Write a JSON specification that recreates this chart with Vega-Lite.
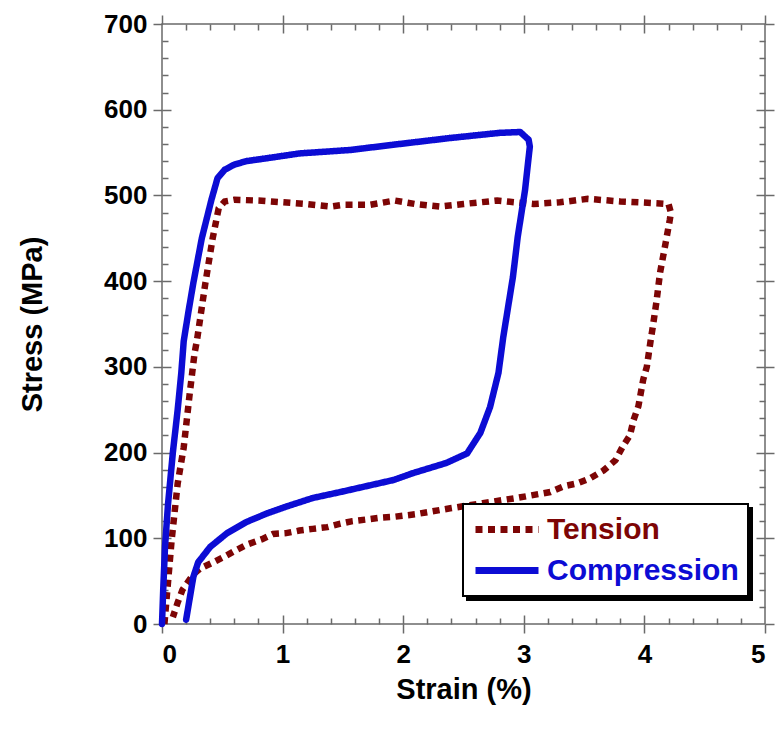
{
  "$schema": "https://vega.github.io/schema/vega-lite/v6.json",
  "width": 603,
  "height": 600,
  "autosize": "none",
  "padding": {"left": 162, "top": 24, "right": 12, "bottom": 107},
  "background": "white",
  "config": {
    "view": {"stroke": "#6a6a6a", "strokeWidth": 1.5},
    "font": "Liberation Sans",
    "axis": {"grid": false, "domain": false, "tickColor": "#6a6a6a", "tickWidth": 1.5, "labelFont": "Liberation Sans", "labelFontWeight": "bold", "labelFontSize": 26, "labelColor": "#000", "titleFont": "Liberation Sans", "titleFontWeight": "bold", "titleFontSize": 29, "titleColor": "#000"}
  },
  "datasets": {
    "curves": [
      {"series": "Tension", "strain": 0.02, "stress": 0},
      {"series": "Tension", "strain": 0.08, "stress": 98},
      {"series": "Tension", "strain": 0.13, "stress": 164},
      {"series": "Tension", "strain": 0.18, "stress": 206},
      {"series": "Tension", "strain": 0.23, "stress": 269},
      {"series": "Tension", "strain": 0.27, "stress": 316},
      {"series": "Tension", "strain": 0.29, "stress": 331},
      {"series": "Tension", "strain": 0.36, "stress": 398},
      {"series": "Tension", "strain": 0.42, "stress": 450},
      {"series": "Tension", "strain": 0.47, "stress": 485},
      {"series": "Tension", "strain": 0.52, "stress": 493},
      {"series": "Tension", "strain": 0.6, "stress": 495},
      {"series": "Tension", "strain": 0.8, "stress": 494},
      {"series": "Tension", "strain": 1.0, "stress": 492},
      {"series": "Tension", "strain": 1.2, "stress": 490},
      {"series": "Tension", "strain": 1.4, "stress": 487},
      {"series": "Tension", "strain": 1.5, "stress": 489},
      {"series": "Tension", "strain": 1.72, "stress": 489},
      {"series": "Tension", "strain": 1.93, "stress": 494},
      {"series": "Tension", "strain": 2.1, "stress": 490},
      {"series": "Tension", "strain": 2.3, "stress": 487},
      {"series": "Tension", "strain": 2.5, "stress": 490},
      {"series": "Tension", "strain": 2.78, "stress": 494},
      {"series": "Tension", "strain": 3.08, "stress": 490},
      {"series": "Tension", "strain": 3.3, "stress": 492},
      {"series": "Tension", "strain": 3.53, "stress": 496},
      {"series": "Tension", "strain": 3.8, "stress": 493},
      {"series": "Tension", "strain": 4.1, "stress": 491},
      {"series": "Tension", "strain": 4.2, "stress": 490},
      {"series": "Tension", "strain": 4.22, "stress": 480},
      {"series": "Tension", "strain": 4.21, "stress": 471},
      {"series": "Tension", "strain": 4.17, "stress": 440},
      {"series": "Tension", "strain": 4.13, "stress": 410},
      {"series": "Tension", "strain": 4.1, "stress": 376},
      {"series": "Tension", "strain": 4.07, "stress": 347},
      {"series": "Tension", "strain": 4.05, "stress": 329},
      {"series": "Tension", "strain": 4.02, "stress": 300},
      {"series": "Tension", "strain": 3.99, "stress": 285},
      {"series": "Tension", "strain": 3.95, "stress": 254},
      {"series": "Tension", "strain": 3.91, "stress": 238},
      {"series": "Tension", "strain": 3.88, "stress": 220},
      {"series": "Tension", "strain": 3.82, "stress": 207},
      {"series": "Tension", "strain": 3.76, "stress": 191},
      {"series": "Tension", "strain": 3.66, "stress": 179},
      {"series": "Tension", "strain": 3.55, "stress": 170},
      {"series": "Tension", "strain": 3.44, "stress": 164},
      {"series": "Tension", "strain": 3.34, "stress": 161},
      {"series": "Tension", "strain": 3.22, "stress": 154},
      {"series": "Tension", "strain": 2.94, "stress": 147},
      {"series": "Tension", "strain": 2.66, "stress": 141},
      {"series": "Tension", "strain": 2.39, "stress": 135},
      {"series": "Tension", "strain": 2.1, "stress": 128},
      {"series": "Tension", "strain": 1.92, "stress": 125},
      {"series": "Tension", "strain": 1.81, "stress": 124},
      {"series": "Tension", "strain": 1.7, "stress": 122},
      {"series": "Tension", "strain": 1.58, "stress": 120},
      {"series": "Tension", "strain": 1.48, "stress": 117},
      {"series": "Tension", "strain": 1.37, "stress": 113},
      {"series": "Tension", "strain": 1.25, "stress": 111},
      {"series": "Tension", "strain": 1.14, "stress": 109},
      {"series": "Tension", "strain": 1.03, "stress": 106},
      {"series": "Tension", "strain": 0.92, "stress": 105},
      {"series": "Tension", "strain": 0.83, "stress": 99},
      {"series": "Tension", "strain": 0.71, "stress": 93},
      {"series": "Tension", "strain": 0.6, "stress": 85},
      {"series": "Tension", "strain": 0.51, "stress": 78},
      {"series": "Tension", "strain": 0.41, "stress": 71},
      {"series": "Tension", "strain": 0.32, "stress": 65},
      {"series": "Tension", "strain": 0.26, "stress": 58},
      {"series": "Tension", "strain": 0.22, "stress": 50},
      {"series": "Tension", "strain": 0.17, "stress": 40},
      {"series": "Tension", "strain": 0.13, "stress": 25},
      {"series": "Tension", "strain": 0.09, "stress": 8},
      {"series": "Compression", "strain": 0.0, "stress": 0},
      {"series": "Compression", "strain": 0.01, "stress": 40},
      {"series": "Compression", "strain": 0.025, "stress": 90},
      {"series": "Compression", "strain": 0.05, "stress": 140},
      {"series": "Compression", "strain": 0.09, "stress": 200},
      {"series": "Compression", "strain": 0.13, "stress": 250},
      {"series": "Compression", "strain": 0.16, "stress": 293},
      {"series": "Compression", "strain": 0.18, "stress": 330},
      {"series": "Compression", "strain": 0.22, "stress": 365},
      {"series": "Compression", "strain": 0.26, "stress": 398},
      {"series": "Compression", "strain": 0.33, "stress": 450},
      {"series": "Compression", "strain": 0.41, "stress": 495},
      {"series": "Compression", "strain": 0.46, "stress": 520},
      {"series": "Compression", "strain": 0.52, "stress": 530},
      {"series": "Compression", "strain": 0.6, "stress": 536},
      {"series": "Compression", "strain": 0.7, "stress": 540},
      {"series": "Compression", "strain": 0.9, "stress": 544},
      {"series": "Compression", "strain": 1.14, "stress": 549},
      {"series": "Compression", "strain": 1.56, "stress": 553},
      {"series": "Compression", "strain": 1.97, "stress": 560},
      {"series": "Compression", "strain": 2.39, "stress": 567},
      {"series": "Compression", "strain": 2.8, "stress": 573},
      {"series": "Compression", "strain": 2.97, "stress": 574},
      {"series": "Compression", "strain": 3.04, "stress": 565},
      {"series": "Compression", "strain": 3.05, "stress": 557},
      {"series": "Compression", "strain": 3.01, "stress": 506},
      {"series": "Compression", "strain": 2.95, "stress": 452},
      {"series": "Compression", "strain": 2.91, "stress": 405},
      {"series": "Compression", "strain": 2.87, "stress": 370},
      {"series": "Compression", "strain": 2.83, "stress": 335},
      {"series": "Compression", "strain": 2.79, "stress": 293},
      {"series": "Compression", "strain": 2.72, "stress": 253},
      {"series": "Compression", "strain": 2.64, "stress": 223},
      {"series": "Compression", "strain": 2.53, "stress": 199},
      {"series": "Compression", "strain": 2.36, "stress": 188},
      {"series": "Compression", "strain": 2.08, "stress": 176},
      {"series": "Compression", "strain": 1.92, "stress": 168},
      {"series": "Compression", "strain": 1.7, "stress": 161},
      {"series": "Compression", "strain": 1.48, "stress": 154},
      {"series": "Compression", "strain": 1.25, "stress": 147},
      {"series": "Compression", "strain": 1.03, "stress": 137},
      {"series": "Compression", "strain": 0.87, "stress": 129},
      {"series": "Compression", "strain": 0.7, "stress": 119},
      {"series": "Compression", "strain": 0.54, "stress": 106},
      {"series": "Compression", "strain": 0.4, "stress": 90},
      {"series": "Compression", "strain": 0.3, "stress": 72},
      {"series": "Compression", "strain": 0.26, "stress": 55},
      {"series": "Compression", "strain": 0.23, "stress": 30},
      {"series": "Compression", "strain": 0.2, "stress": 5}
    ]
  },
  "data": {"name": "curves"},
  "resolve": {"axis": {"x": "independent", "y": "independent"}},
  "layer": [
    {
      "transform": [{"filter": "datum.series == 'Tension'"}],
      "mark": {"type": "line", "strokeWidth": 6.5, "strokeCap": "butt", "strokeJoin": "miter"},
      "encoding": {
        "x": {"field": "strain", "type": "quantitative", "scale": {"domain": [0, 5], "nice": false},
          "axis": {"orient": "bottom", "values": [0, 1, 2, 3, 4, 5], "tickSize": 9, "labelPadding": 8, "title": "Strain (%)", "titlePadding": 8}},
        "y": {"field": "stress", "type": "quantitative", "scale": {"domain": [0, 700], "nice": false},
          "axis": {"orient": "left", "values": [0, 100, 200, 300, 400, 500, 600, 700], "tickSize": 9, "labelPadding": 6, "title": "Stress (MPa)", "titlePadding": 56}},
        "order": {"value": null},
        "color": {"field": "series", "type": "nominal",
          "scale": {"domain": ["Compression", "Tension"], "range": ["#0c0cd4", "#7d0505"]},
          "legend": {"title": null, "orient": "none", "legendX": 305, "legendY": 484, "fillColor": "black", "strokeColor": "black", "padding": 9, "rowPadding": 8, "clipHeight": 33, "symbolType": "stroke", "symbolSize": 3969, "symbolStrokeWidth": 7, "labelFont": "Liberation Sans", "labelFontWeight": "bold", "labelFontSize": 30, "labelOffset": 5, "labelLimit": 400,
            "encode": {"legend": {"update": {"strokeWidth": {"value": 2}}}, "symbols": {"update": {"opacity": {"value": 0}}}, "labels": {"update": {"opacity": {"value": 0}}}}}},
        "strokeDash": {"field": "series", "type": "nominal",
          "scale": {"domain": ["Tension", "Compression"], "range": [[7, 5.5], [1, 0]]},
          "legend": {"title": null, "orient": "none", "legendX": 301, "legendY": 480, "fillColor": "white", "strokeColor": "black", "padding": 9, "rowPadding": 8, "clipHeight": 33, "symbolType": "stroke", "symbolSize": 3969, "symbolStrokeWidth": 7, "labelFont": "Liberation Sans", "labelFontWeight": "bold", "labelFontSize": 30, "labelOffset": 5, "labelLimit": 400,
            "encode": {"legend": {"update": {"strokeWidth": {"value": 2}}}, "symbols": {"update": {"stroke": {"signal": "scale('color', datum.value)"}}}, "labels": {"update": {"fill": {"signal": "scale('color', datum.value)"}}}}}}
      }
    },
    {
      "transform": [{"filter": "datum.series == 'Compression'"}],
      "mark": {"type": "line", "strokeWidth": 6.5, "strokeCap": "round", "strokeJoin": "round"},
      "encoding": {
        "x": {"field": "strain", "type": "quantitative",
          "axis": {"orient": "bottom", "values": [0.2, 0.4, 0.6, 0.8, 1.2, 1.4, 1.6, 1.8, 2.2, 2.4, 2.6, 2.8, 3.2, 3.4, 3.6, 3.8, 4.2, 4.4, 4.6, 4.8], "tickSize": -6, "labels": false, "title": null}},
        "y": {"field": "stress", "type": "quantitative",
          "axis": {"orient": "left", "values": [20, 40, 60, 80, 120, 140, 160, 180, 220, 240, 260, 280, 320, 340, 360, 380, 420, 440, 460, 480, 520, 540, 560, 580, 620, 640, 660, 680], "tickSize": -6, "labels": false, "title": null}},
        "order": {"value": null},
        "color": {"field": "series", "type": "nominal"},
        "strokeDash": {"field": "series", "type": "nominal"}
      }
    },
    {
      "mark": {"type": "point", "opacity": 0},
      "encoding": {
        "x": {"field": "strain", "type": "quantitative",
          "axis": {"orient": "top", "values": [0, 1, 2, 3, 4, 5], "tickSize": 9, "labels": false, "title": null}},
        "y": {"field": "stress", "type": "quantitative",
          "axis": {"orient": "right", "values": [0, 100, 200, 300, 400, 500, 600, 700], "tickSize": 9, "labels": false, "title": null}}
      }
    },
    {
      "mark": {"type": "point", "opacity": 0},
      "encoding": {
        "x": {"field": "strain", "type": "quantitative",
          "axis": {"orient": "top", "values": [0.2, 0.4, 0.6, 0.8, 1.2, 1.4, 1.6, 1.8, 2.2, 2.4, 2.6, 2.8, 3.2, 3.4, 3.6, 3.8, 4.2, 4.4, 4.6, 4.8], "tickSize": -6, "labels": false, "title": null}},
        "y": {"field": "stress", "type": "quantitative",
          "axis": {"orient": "right", "values": [20, 40, 60, 80, 120, 140, 160, 180, 220, 240, 260, 280, 320, 340, 360, 380, 420, 440, 460, 480, 520, 540, 560, 580, 620, 640, 660, 680], "tickSize": -6, "labels": false, "title": null}}
      }
    },
    {
      "mark": {"type": "point", "opacity": 0},
      "encoding": {
        "x": {"field": "strain", "type": "quantitative",
          "axis": {"orient": "bottom", "values": [1, 2, 3, 4], "tickSize": -9, "labels": false, "title": null}},
        "y": {"field": "stress", "type": "quantitative",
          "axis": {"orient": "left", "values": [100, 200, 300, 400, 500, 600], "tickSize": -9, "labels": false, "title": null}}
      }
    },
    {
      "mark": {"type": "point", "opacity": 0},
      "encoding": {
        "x": {"field": "strain", "type": "quantitative",
          "axis": {"orient": "top", "values": [1, 2, 3, 4], "tickSize": -9, "labels": false, "title": null}},
        "y": {"field": "stress", "type": "quantitative",
          "axis": {"orient": "right", "values": [100, 200, 300, 400, 500, 600], "tickSize": -9, "labels": false, "title": null}}
      }
    }
  ]
}
